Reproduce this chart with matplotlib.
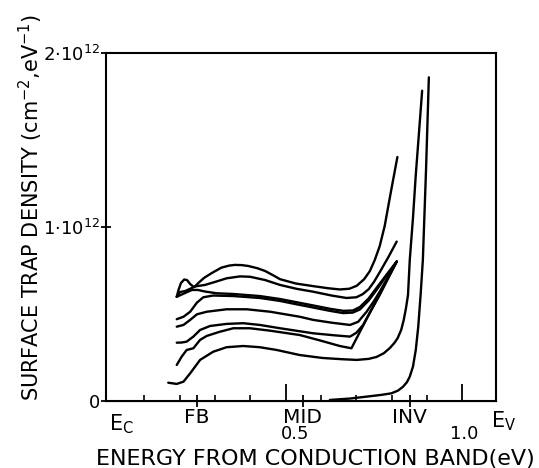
import matplotlib
matplotlib.use("Agg")
import matplotlib.pyplot as plt
import matplotlib.transforms as mtransforms

# curves: x in eV from E_C, y in 1e12 cm-2 eV-1
c1_x = [0.192, 0.201, 0.216, 0.243, 0.252, 0.269, 0.290, 0.318, 0.340, 0.356, 0.375, 0.394,
        0.420, 0.442, 0.465, 0.484, 0.529, 0.578, 0.620, 0.653, 0.680, 0.701, 0.722, 0.738,
        0.752, 0.766, 0.780, 0.797, 0.816]
c1_y = [0.599, 0.626, 0.632, 0.657, 0.676, 0.707, 0.734, 0.766, 0.778, 0.782, 0.781, 0.776,
        0.763, 0.747, 0.722, 0.700, 0.675, 0.660, 0.648, 0.641, 0.645, 0.662, 0.700, 0.746,
        0.810, 0.890, 1.005, 1.195, 1.402]

c2_x = [0.192, 0.197, 0.204, 0.213, 0.221, 0.230, 0.239, 0.272, 0.300, 0.333, 0.371, 0.399,
        0.442, 0.484, 0.530, 0.578, 0.630, 0.672, 0.700, 0.718, 0.735, 0.750, 0.766, 0.790, 0.814]
c2_y = [0.599, 0.638, 0.678, 0.698, 0.695, 0.672, 0.657, 0.667, 0.684, 0.705, 0.716, 0.714,
        0.695, 0.667, 0.645, 0.628, 0.606, 0.592, 0.596, 0.614, 0.643, 0.685, 0.740, 0.825, 0.916]

c3_x = [0.192, 0.216, 0.235, 0.252, 0.272, 0.305, 0.352, 0.427, 0.484, 0.530, 0.578, 0.625,
        0.663, 0.690, 0.710, 0.735, 0.757, 0.785, 0.814]
c3_y = [0.599, 0.621, 0.638, 0.638, 0.629, 0.619, 0.615, 0.603, 0.586, 0.568, 0.549, 0.530,
        0.518, 0.520, 0.540, 0.590, 0.650, 0.725, 0.801]

c4_x = [0.192, 0.211, 0.230, 0.249, 0.267, 0.295, 0.352, 0.427, 0.484, 0.530, 0.578, 0.625,
        0.663, 0.690, 0.710, 0.735, 0.757, 0.785, 0.814]
c4_y = [0.470, 0.484, 0.513, 0.565, 0.596, 0.606, 0.603, 0.592, 0.575, 0.556, 0.537, 0.518,
        0.505, 0.508, 0.526, 0.578, 0.638, 0.720, 0.801]

c5_x = [0.192, 0.211, 0.230, 0.249, 0.277, 0.333, 0.390, 0.456, 0.540, 0.578, 0.630, 0.682,
        0.705, 0.729, 0.750, 0.766, 0.790, 0.814]
c5_y = [0.427, 0.437, 0.466, 0.498, 0.513, 0.527, 0.527, 0.513, 0.484, 0.466, 0.450, 0.437,
        0.455, 0.513, 0.575, 0.628, 0.715, 0.801]

c6_x = [0.192, 0.206, 0.220, 0.239, 0.258, 0.286, 0.333, 0.380, 0.427, 0.484, 0.578, 0.640,
        0.682, 0.700, 0.719, 0.740, 0.766, 0.790, 0.814]
c6_y = [0.335, 0.336, 0.341, 0.370, 0.408, 0.431, 0.443, 0.447, 0.437, 0.418, 0.389, 0.377,
        0.370, 0.392, 0.437, 0.515, 0.609, 0.705, 0.801]

c7_x = [0.192, 0.206, 0.220, 0.239, 0.258, 0.277, 0.314, 0.352, 0.399, 0.456, 0.540, 0.597,
        0.653, 0.686, 0.726, 0.766, 0.814]
c7_y = [0.207, 0.255, 0.293, 0.303, 0.351, 0.374, 0.398, 0.418, 0.418, 0.404, 0.379, 0.348,
        0.316, 0.303, 0.460, 0.615, 0.801]

c8_x = [0.168, 0.192, 0.211, 0.230, 0.258, 0.295, 0.333, 0.380, 0.427, 0.475, 0.540, 0.605,
        0.660, 0.701, 0.735, 0.757, 0.778, 0.795, 0.808, 0.817, 0.827, 0.834, 0.840, 0.846,
        0.851, 0.860, 0.868, 0.877, 0.886]
c8_y = [0.105, 0.098, 0.111, 0.159, 0.236, 0.283, 0.309, 0.316, 0.309, 0.293, 0.264, 0.247,
        0.240, 0.236, 0.242, 0.253, 0.275, 0.305, 0.335, 0.362, 0.410, 0.466, 0.530, 0.609,
        0.810, 1.050, 1.299, 1.540, 1.783]

c9_x = [0.625, 0.682, 0.729, 0.770, 0.799, 0.818, 0.832, 0.843, 0.851, 0.860, 0.868, 0.875,
        0.882, 0.888, 0.897, 0.905]
c9_y = [0.006, 0.014, 0.025, 0.035, 0.044, 0.060, 0.082, 0.108, 0.140, 0.197, 0.293, 0.427,
        0.619, 0.810, 1.328, 1.860]

curves = [(c1_x, c1_y), (c2_x, c2_y), (c3_x, c3_y), (c4_x, c4_y), (c5_x, c5_y),
          (c6_x, c6_y), (c7_x, c7_y), (c8_x, c8_y), (c9_x, c9_y)]

mark_pos = [0.249, 0.549, 0.851]
mark_lbl = ["FB", "MID", "INV"]
minor_pos = [0.1, 0.2, 0.3, 0.4, 0.6, 0.7, 0.8, 0.9]
major_pos = [0.5, 1.0]
y_pos = [0, 1, 2]
y_lbl = ["0", r"$1{\cdot}10^{12}$", r"$2{\cdot}10^{12}$"]

fig = plt.figure(figsize=(5.39, 4.68), dpi=100)
ax = fig.add_axes([0.1967, 0.1432, 0.7236, 0.7436])

for cx, cy in curves:
    ax.plot(cx, cy, color="black", lw=1.7, solid_capstyle="round", solid_joinstyle="round")

ax.set_xlim(-0.008, 1.095)
ax.set_ylim(0, 2)
for s in ax.spines.values():
    s.set_linewidth(1.5)

ax.set_xticks(mark_pos)
ax.set_xticklabels(mark_lbl, fontsize=14.5)
ax.set_xticks(minor_pos, minor=True)
ax.tick_params(axis="x", which="major", direction="inout", length=8.5, width=1.3, pad=0.5)
ax.tick_params(axis="x", which="minor", direction="in", length=4, width=1.2)

sec = ax.secondary_xaxis("bottom")
sec.set_xticks(major_pos)
sec.set_xticklabels([])
sec.tick_params(direction="in", length=12.5, width=1.3)

ax.set_yticks(y_pos)
ax.set_yticklabels(y_lbl, fontsize=13)
ax.tick_params(axis="y", direction="inout", length=7, width=1.3, pad=1)

tr = mtransforms.blended_transform_factory(ax.transData, ax.transAxes)
ax.text(0.527, -0.096, "0.5", transform=tr, ha="center", va="center", fontsize=13)
ax.text(1.005, -0.096, "1.0", transform=tr, ha="center", va="center", fontsize=13)
ax.text(0.0, -0.068, r"E$_\mathregular{C}$", transform=tr, ha="left", va="center", fontsize=15)
ax.text(1.082, -0.058, r"E$_\mathregular{V}$", transform=tr, ha="left", va="center", fontsize=15)

fig.text(0.586, 0.0064, "ENERGY FROM CONDUCTION BAND(eV)", ha="center", va="baseline", fontsize=16)
fig.text(0.058, 0.556, r"SURFACE TRAP DENSITY (cm$^{-2}$,eV$^{-1}$)", rotation=90,
         ha="center", va="center", fontsize=15)

fig.savefig("out.png", dpi=100)
